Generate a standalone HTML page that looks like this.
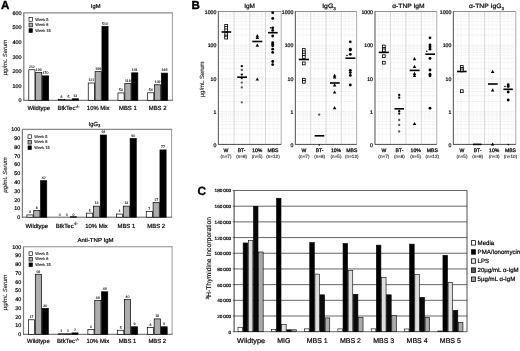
<!DOCTYPE html>
<html><head><meta charset="utf-8"><title>Figure</title>
<style>
html,body{margin:0;padding:0;background:#fff;}
svg{display:block;font-family:"Liberation Sans",Arial,sans-serif;text-rendering:geometricPrecision;filter:blur(0.3px);}
</style></head><body>
<svg width="520" height="351" viewBox="0 0 520 351">
<rect x="0" y="0" width="520" height="351" fill="#fff"/>
<text x="0.90" y="9.40" font-size="11.6" text-anchor="start" font-weight="bold" fill="#000" stroke="#000" stroke-width="0.35" >A</text>
<text x="191.40" y="9.40" font-size="11.6" text-anchor="start" font-weight="bold" fill="#000" stroke="#000" stroke-width="0.35" >B</text>
<text x="197.40" y="195.30" font-size="11.8" text-anchor="start" font-weight="bold" fill="#000" stroke="#000" stroke-width="0.35" >C</text>
<line x1="23.30" y1="12.90" x2="172.90" y2="12.90" stroke="#8a8a8a" stroke-width="1.1" />
<line x1="172.40" y1="12.90" x2="172.40" y2="100.30" stroke="#999" stroke-width="1.0" />
<line x1="23.80" y1="12.90" x2="23.80" y2="100.30" stroke="#7c7c7c" stroke-width="1.2" />
<line x1="23.30" y1="100.30" x2="172.90" y2="100.30" stroke="#333" stroke-width="0.8" />
<text x="21.60" y="102.20" font-size="5.4" text-anchor="end" font-weight="normal" fill="#000" stroke="#000" stroke-width="0.2" >0</text>
<text x="21.60" y="87.63" font-size="5.4" text-anchor="end" font-weight="normal" fill="#000" stroke="#000" stroke-width="0.2" >100</text>
<text x="21.60" y="73.07" font-size="5.4" text-anchor="end" font-weight="normal" fill="#000" stroke="#000" stroke-width="0.2" >200</text>
<text x="21.60" y="58.50" font-size="5.4" text-anchor="end" font-weight="normal" fill="#000" stroke="#000" stroke-width="0.2" >300</text>
<text x="21.60" y="43.93" font-size="5.4" text-anchor="end" font-weight="normal" fill="#000" stroke="#000" stroke-width="0.2" >400</text>
<text x="21.60" y="29.37" font-size="5.4" text-anchor="end" font-weight="normal" fill="#000" stroke="#000" stroke-width="0.2" >500</text>
<text x="21.60" y="14.80" font-size="5.4" text-anchor="end" font-weight="normal" fill="#000" stroke="#000" stroke-width="0.2" >600</text>
<text transform="translate(6.5,57.6) rotate(-90)" font-size="5.9" text-anchor="middle" font-style="italic" fill="#222" stroke="#222" stroke-width="0.12">µg/mL Serum</text>
<text x="95.70" y="7.95" font-size="5.8" text-anchor="middle" font-weight="normal" fill="#000" stroke="#000" stroke-width="0.2" >IgM</text>
<rect x="29.02" y="17.62" width="3.35" height="3.67" fill="#fff" stroke="#000" stroke-width="0.65"/>
<text x="35.30" y="20.70" font-size="3.9" text-anchor="start" font-weight="normal" fill="#000" stroke="#000" stroke-width="0.1" >Week 5</text>
<rect x="29.02" y="23.18" width="3.35" height="3.67" fill="#adadad" stroke="#000" stroke-width="0.65"/>
<text x="35.30" y="26.25" font-size="3.9" text-anchor="start" font-weight="normal" fill="#000" stroke="#000" stroke-width="0.1" >Week 8</text>
<rect x="29.02" y="28.72" width="3.35" height="3.67" fill="#000" stroke="#000" stroke-width="0.65"/>
<text x="35.30" y="31.80" font-size="3.9" text-anchor="start" font-weight="normal" fill="#000" stroke="#000" stroke-width="0.1" >Week 15</text>
<rect x="28.80" y="69.77" width="6.15" height="30.53" fill="#fff" stroke="#000" stroke-width="0.7"/>
<text x="31.88" y="68.12" font-size="3.5" text-anchor="middle" font-weight="normal" fill="#000" stroke="#000" stroke-width="0.08" >212</text>
<rect x="35.65" y="72.54" width="6.15" height="27.76" fill="#adadad" stroke="#000" stroke-width="0.7"/>
<text x="38.73" y="70.89" font-size="3.5" text-anchor="middle" font-weight="normal" fill="#000" stroke="#000" stroke-width="0.08" >193</text>
<rect x="42.50" y="75.89" width="6.15" height="24.41" fill="#000" stroke="#000" stroke-width="0.7"/>
<text x="45.58" y="74.24" font-size="3.5" text-anchor="middle" font-weight="normal" fill="#000" stroke="#000" stroke-width="0.08" >170</text>
<text x="38.73" y="110.30" font-size="5.9" text-anchor="middle" font-weight="normal" fill="#000" stroke="#000" stroke-width="0.2" >Wildtype</text>
<rect x="58.52" y="99.48" width="6.15" height="0.82" fill="#fff" stroke="#000" stroke-width="0.7"/>
<text x="61.59" y="97.83" font-size="3.5" text-anchor="middle" font-weight="normal" fill="#000" stroke="#000" stroke-width="0.08" >8</text>
<rect x="65.37" y="99.92" width="6.15" height="0.38" fill="#adadad" stroke="#000" stroke-width="0.7"/>
<text x="68.44" y="98.27" font-size="3.5" text-anchor="middle" font-weight="normal" fill="#000" stroke="#000" stroke-width="0.08" >5</text>
<rect x="72.22" y="98.76" width="6.15" height="1.54" fill="#000" stroke="#000" stroke-width="0.7"/>
<text x="75.29" y="97.11" font-size="3.5" text-anchor="middle" font-weight="normal" fill="#000" stroke="#000" stroke-width="0.08" >13</text>
<text x="68.44" y="110.30" font-size="6" text-anchor="middle" font-weight="normal" fill="#000" stroke="#000" stroke-width="0.2" >BtkTec<tspan font-size="4.2" dy="-2.2">-/-</tspan></text>
<rect x="88.24" y="83.02" width="6.15" height="17.28" fill="#fff" stroke="#000" stroke-width="0.7"/>
<text x="91.31" y="81.37" font-size="3.5" text-anchor="middle" font-weight="normal" fill="#000" stroke="#000" stroke-width="0.08" >121</text>
<rect x="95.09" y="71.66" width="6.15" height="28.64" fill="#adadad" stroke="#000" stroke-width="0.7"/>
<text x="98.16" y="70.01" font-size="3.5" text-anchor="middle" font-weight="normal" fill="#000" stroke="#000" stroke-width="0.08" >199</text>
<rect x="101.94" y="26.36" width="6.15" height="73.94" fill="#000" stroke="#000" stroke-width="0.7"/>
<text x="105.02" y="24.71" font-size="3.5" text-anchor="middle" font-weight="normal" fill="#000" stroke="#000" stroke-width="0.08" >510</text>
<text x="98.16" y="110.30" font-size="5.9" text-anchor="middle" font-weight="normal" fill="#000" stroke="#000" stroke-width="0.2" >10% Mix</text>
<rect x="117.96" y="92.93" width="6.15" height="7.37" fill="#fff" stroke="#000" stroke-width="0.7"/>
<text x="121.03" y="91.28" font-size="3.5" text-anchor="middle" font-weight="normal" fill="#000" stroke="#000" stroke-width="0.08" >53</text>
<rect x="124.81" y="83.46" width="6.15" height="16.84" fill="#adadad" stroke="#000" stroke-width="0.7"/>
<text x="127.88" y="81.81" font-size="3.5" text-anchor="middle" font-weight="normal" fill="#000" stroke="#000" stroke-width="0.08" >118</text>
<rect x="131.66" y="72.83" width="6.15" height="27.47" fill="#000" stroke="#000" stroke-width="0.7"/>
<text x="134.74" y="71.18" font-size="3.5" text-anchor="middle" font-weight="normal" fill="#000" stroke="#000" stroke-width="0.08" >191</text>
<text x="127.88" y="110.30" font-size="5.9" text-anchor="middle" font-weight="normal" fill="#000" stroke="#000" stroke-width="0.2" >MBS 1</text>
<rect x="147.68" y="92.78" width="6.15" height="7.52" fill="#fff" stroke="#000" stroke-width="0.7"/>
<text x="150.76" y="91.13" font-size="3.5" text-anchor="middle" font-weight="normal" fill="#000" stroke="#000" stroke-width="0.08" >54</text>
<rect x="154.53" y="84.77" width="6.15" height="15.53" fill="#adadad" stroke="#000" stroke-width="0.7"/>
<text x="157.61" y="83.12" font-size="3.5" text-anchor="middle" font-weight="normal" fill="#000" stroke="#000" stroke-width="0.08" >109</text>
<rect x="161.38" y="73.12" width="6.15" height="27.18" fill="#000" stroke="#000" stroke-width="0.7"/>
<text x="164.46" y="71.47" font-size="3.5" text-anchor="middle" font-weight="normal" fill="#000" stroke="#000" stroke-width="0.08" >189</text>
<text x="157.61" y="110.30" font-size="5.9" text-anchor="middle" font-weight="normal" fill="#000" stroke="#000" stroke-width="0.2" >MBS 2</text>
<line x1="21.90" y1="129.40" x2="172.10" y2="129.40" stroke="#8a8a8a" stroke-width="1.1" />
<line x1="171.60" y1="129.40" x2="171.60" y2="217.20" stroke="#999" stroke-width="1.0" />
<line x1="22.40" y1="129.40" x2="22.40" y2="217.20" stroke="#7c7c7c" stroke-width="1.2" />
<line x1="21.90" y1="217.20" x2="172.10" y2="217.20" stroke="#333" stroke-width="0.8" />
<text x="20.20" y="219.10" font-size="5.4" text-anchor="end" font-weight="normal" fill="#000" stroke="#000" stroke-width="0.2" >0</text>
<text x="20.20" y="210.32" font-size="5.4" text-anchor="end" font-weight="normal" fill="#000" stroke="#000" stroke-width="0.2" >10</text>
<text x="20.20" y="201.54" font-size="5.4" text-anchor="end" font-weight="normal" fill="#000" stroke="#000" stroke-width="0.2" >20</text>
<text x="20.20" y="192.76" font-size="5.4" text-anchor="end" font-weight="normal" fill="#000" stroke="#000" stroke-width="0.2" >30</text>
<text x="20.20" y="183.98" font-size="5.4" text-anchor="end" font-weight="normal" fill="#000" stroke="#000" stroke-width="0.2" >40</text>
<text x="20.20" y="175.20" font-size="5.4" text-anchor="end" font-weight="normal" fill="#000" stroke="#000" stroke-width="0.2" >50</text>
<text x="20.20" y="166.42" font-size="5.4" text-anchor="end" font-weight="normal" fill="#000" stroke="#000" stroke-width="0.2" >60</text>
<text x="20.20" y="157.64" font-size="5.4" text-anchor="end" font-weight="normal" fill="#000" stroke="#000" stroke-width="0.2" >70</text>
<text x="20.20" y="148.86" font-size="5.4" text-anchor="end" font-weight="normal" fill="#000" stroke="#000" stroke-width="0.2" >80</text>
<text x="20.20" y="140.08" font-size="5.4" text-anchor="end" font-weight="normal" fill="#000" stroke="#000" stroke-width="0.2" >90</text>
<text x="20.20" y="131.30" font-size="5.4" text-anchor="end" font-weight="normal" fill="#000" stroke="#000" stroke-width="0.2" >100</text>
<text transform="translate(6.5,175.0) rotate(-90)" font-size="5.9" text-anchor="middle" font-style="italic" fill="#222" stroke="#222" stroke-width="0.12">µg/mL Serum</text>
<text x="94.40" y="126.00" font-size="5.8" text-anchor="middle" font-weight="normal" fill="#000" stroke="#000" stroke-width="0.2" >IgG<tspan font-size="4.2" dy="1.4">3</tspan></text>
<rect x="28.02" y="134.82" width="3.35" height="3.67" fill="#fff" stroke="#000" stroke-width="0.65"/>
<text x="34.30" y="137.90" font-size="3.9" text-anchor="start" font-weight="normal" fill="#000" stroke="#000" stroke-width="0.1" >Week 5</text>
<rect x="28.02" y="140.38" width="3.35" height="3.67" fill="#adadad" stroke="#000" stroke-width="0.65"/>
<text x="34.30" y="143.45" font-size="3.9" text-anchor="start" font-weight="normal" fill="#000" stroke="#000" stroke-width="0.1" >Week 8</text>
<rect x="28.02" y="145.92" width="3.35" height="3.67" fill="#000" stroke="#000" stroke-width="0.65"/>
<text x="34.30" y="149.00" font-size="3.9" text-anchor="start" font-weight="normal" fill="#000" stroke="#000" stroke-width="0.1" >Week 15</text>
<rect x="26.90" y="214.92" width="6.15" height="2.28" fill="#fff" stroke="#000" stroke-width="0.7"/>
<text x="29.97" y="213.27" font-size="3.5" text-anchor="middle" font-weight="normal" fill="#000" stroke="#000" stroke-width="0.08" >3</text>
<rect x="33.75" y="210.53" width="6.15" height="6.67" fill="#adadad" stroke="#000" stroke-width="0.7"/>
<text x="36.82" y="208.88" font-size="3.5" text-anchor="middle" font-weight="normal" fill="#000" stroke="#000" stroke-width="0.08" >8</text>
<rect x="40.60" y="180.67" width="6.15" height="36.53" fill="#000" stroke="#000" stroke-width="0.7"/>
<text x="43.67" y="179.02" font-size="3.5" text-anchor="middle" font-weight="normal" fill="#000" stroke="#000" stroke-width="0.08" >42</text>
<text x="36.82" y="227.60" font-size="5.9" text-anchor="middle" font-weight="normal" fill="#000" stroke="#000" stroke-width="0.2" >Wildtype</text>
<text x="59.81" y="215.90" font-size="3.5" text-anchor="middle" font-weight="normal" fill="#000" stroke="#000" stroke-width="0.08" >0</text>
<text x="66.66" y="215.90" font-size="3.5" text-anchor="middle" font-weight="normal" fill="#000" stroke="#000" stroke-width="0.08" >0</text>
<rect x="70.44" y="216.76" width="6.15" height="0.44" fill="#000" stroke="#000" stroke-width="0.7"/>
<text x="73.51" y="215.90" font-size="3.5" text-anchor="middle" font-weight="normal" fill="#000" stroke="#000" stroke-width="0.08" >0</text>
<text x="66.66" y="227.60" font-size="6" text-anchor="middle" font-weight="normal" fill="#000" stroke="#000" stroke-width="0.2" >BtkTec<tspan font-size="4.2" dy="-2.2">-/-</tspan></text>
<rect x="86.58" y="213.16" width="6.15" height="4.04" fill="#fff" stroke="#000" stroke-width="0.7"/>
<text x="89.65" y="211.51" font-size="3.5" text-anchor="middle" font-weight="normal" fill="#000" stroke="#000" stroke-width="0.08" >5</text>
<rect x="93.43" y="206.14" width="6.15" height="11.06" fill="#adadad" stroke="#000" stroke-width="0.7"/>
<text x="96.50" y="204.49" font-size="3.5" text-anchor="middle" font-weight="normal" fill="#000" stroke="#000" stroke-width="0.08" >13</text>
<rect x="100.28" y="135.02" width="6.15" height="82.18" fill="#000" stroke="#000" stroke-width="0.7"/>
<text x="103.35" y="133.37" font-size="3.5" text-anchor="middle" font-weight="normal" fill="#000" stroke="#000" stroke-width="0.08" >94</text>
<text x="96.50" y="227.60" font-size="5.9" text-anchor="middle" font-weight="normal" fill="#000" stroke="#000" stroke-width="0.2" >10% Mix</text>
<rect x="116.42" y="214.04" width="6.15" height="3.16" fill="#fff" stroke="#000" stroke-width="0.7"/>
<text x="119.49" y="212.39" font-size="3.5" text-anchor="middle" font-weight="normal" fill="#000" stroke="#000" stroke-width="0.08" >4</text>
<rect x="123.27" y="206.14" width="6.15" height="11.06" fill="#adadad" stroke="#000" stroke-width="0.7"/>
<text x="126.34" y="204.49" font-size="3.5" text-anchor="middle" font-weight="normal" fill="#000" stroke="#000" stroke-width="0.08" >13</text>
<rect x="130.12" y="138.53" width="6.15" height="78.67" fill="#000" stroke="#000" stroke-width="0.7"/>
<text x="133.19" y="136.88" font-size="3.5" text-anchor="middle" font-weight="normal" fill="#000" stroke="#000" stroke-width="0.08" >90</text>
<text x="126.34" y="227.60" font-size="5.9" text-anchor="middle" font-weight="normal" fill="#000" stroke="#000" stroke-width="0.2" >MBS 1</text>
<rect x="146.26" y="211.40" width="6.15" height="5.80" fill="#fff" stroke="#000" stroke-width="0.7"/>
<text x="149.34" y="209.75" font-size="3.5" text-anchor="middle" font-weight="normal" fill="#000" stroke="#000" stroke-width="0.08" >7</text>
<rect x="153.11" y="202.62" width="6.15" height="14.58" fill="#adadad" stroke="#000" stroke-width="0.7"/>
<text x="156.19" y="200.97" font-size="3.5" text-anchor="middle" font-weight="normal" fill="#000" stroke="#000" stroke-width="0.08" >17</text>
<rect x="159.96" y="149.94" width="6.15" height="67.26" fill="#000" stroke="#000" stroke-width="0.7"/>
<text x="163.03" y="148.29" font-size="3.5" text-anchor="middle" font-weight="normal" fill="#000" stroke="#000" stroke-width="0.08" >77</text>
<text x="156.19" y="227.60" font-size="5.9" text-anchor="middle" font-weight="normal" fill="#000" stroke="#000" stroke-width="0.2" >MBS 2</text>
<line x1="23.00" y1="246.80" x2="172.60" y2="246.80" stroke="#8a8a8a" stroke-width="1.1" />
<line x1="172.10" y1="246.80" x2="172.10" y2="334.30" stroke="#999" stroke-width="1.0" />
<line x1="23.50" y1="246.80" x2="23.50" y2="334.30" stroke="#7c7c7c" stroke-width="1.2" />
<line x1="23.00" y1="334.30" x2="172.60" y2="334.30" stroke="#333" stroke-width="0.8" />
<text x="21.30" y="336.20" font-size="5.4" text-anchor="end" font-weight="normal" fill="#000" stroke="#000" stroke-width="0.2" >0</text>
<text x="21.30" y="327.45" font-size="5.4" text-anchor="end" font-weight="normal" fill="#000" stroke="#000" stroke-width="0.2" >10</text>
<text x="21.30" y="318.70" font-size="5.4" text-anchor="end" font-weight="normal" fill="#000" stroke="#000" stroke-width="0.2" >20</text>
<text x="21.30" y="309.95" font-size="5.4" text-anchor="end" font-weight="normal" fill="#000" stroke="#000" stroke-width="0.2" >30</text>
<text x="21.30" y="301.20" font-size="5.4" text-anchor="end" font-weight="normal" fill="#000" stroke="#000" stroke-width="0.2" >40</text>
<text x="21.30" y="292.45" font-size="5.4" text-anchor="end" font-weight="normal" fill="#000" stroke="#000" stroke-width="0.2" >50</text>
<text x="21.30" y="283.70" font-size="5.4" text-anchor="end" font-weight="normal" fill="#000" stroke="#000" stroke-width="0.2" >60</text>
<text x="21.30" y="274.95" font-size="5.4" text-anchor="end" font-weight="normal" fill="#000" stroke="#000" stroke-width="0.2" >70</text>
<text x="21.30" y="266.20" font-size="5.4" text-anchor="end" font-weight="normal" fill="#000" stroke="#000" stroke-width="0.2" >80</text>
<text x="21.30" y="257.45" font-size="5.4" text-anchor="end" font-weight="normal" fill="#000" stroke="#000" stroke-width="0.2" >90</text>
<text x="21.30" y="248.70" font-size="5.4" text-anchor="end" font-weight="normal" fill="#000" stroke="#000" stroke-width="0.2" >100</text>
<text transform="translate(6.5,292.5) rotate(-90)" font-size="5.9" text-anchor="middle" font-style="italic" fill="#222" stroke="#222" stroke-width="0.12">µg/mL Serum</text>
<text x="95.50" y="242.20" font-size="5.8" text-anchor="middle" font-weight="normal" fill="#000" stroke="#000" stroke-width="0.2"  textLength="36" lengthAdjust="spacingAndGlyphs">Anti-TNP IgM</text>
<rect x="29.02" y="251.82" width="3.35" height="3.67" fill="#fff" stroke="#000" stroke-width="0.65"/>
<text x="35.30" y="254.90" font-size="3.9" text-anchor="start" font-weight="normal" fill="#000" stroke="#000" stroke-width="0.1" >Week 5</text>
<rect x="29.02" y="257.38" width="3.35" height="3.67" fill="#adadad" stroke="#000" stroke-width="0.65"/>
<text x="35.30" y="260.45" font-size="3.9" text-anchor="start" font-weight="normal" fill="#000" stroke="#000" stroke-width="0.1" >Week 8</text>
<rect x="29.02" y="262.93" width="3.35" height="3.67" fill="#000" stroke="#000" stroke-width="0.65"/>
<text x="35.30" y="266.00" font-size="3.9" text-anchor="start" font-weight="normal" fill="#000" stroke="#000" stroke-width="0.1" >Week 15</text>
<rect x="28.45" y="319.78" width="6.15" height="14.53" fill="#fff" stroke="#000" stroke-width="0.7"/>
<text x="31.53" y="318.12" font-size="3.5" text-anchor="middle" font-weight="normal" fill="#000" stroke="#000" stroke-width="0.08" >17</text>
<rect x="35.30" y="274.28" width="6.15" height="60.02" fill="#adadad" stroke="#000" stroke-width="0.7"/>
<text x="38.38" y="272.62" font-size="3.5" text-anchor="middle" font-weight="normal" fill="#000" stroke="#000" stroke-width="0.08" >69</text>
<rect x="42.15" y="308.40" width="6.15" height="25.90" fill="#000" stroke="#000" stroke-width="0.7"/>
<text x="45.22" y="306.75" font-size="3.5" text-anchor="middle" font-weight="normal" fill="#000" stroke="#000" stroke-width="0.08" >30</text>
<text x="38.38" y="343.10" font-size="5.9" text-anchor="middle" font-weight="normal" fill="#000" stroke="#000" stroke-width="0.2" >Wildtype</text>
<rect x="58.17" y="333.78" width="6.15" height="0.53" fill="#fff" stroke="#000" stroke-width="0.7"/>
<text x="61.24" y="332.12" font-size="3.5" text-anchor="middle" font-weight="normal" fill="#000" stroke="#000" stroke-width="0.08" >1</text>
<rect x="65.02" y="333.78" width="6.15" height="0.53" fill="#adadad" stroke="#000" stroke-width="0.7"/>
<text x="68.09" y="332.12" font-size="3.5" text-anchor="middle" font-weight="normal" fill="#000" stroke="#000" stroke-width="0.08" >1</text>
<rect x="71.87" y="332.90" width="6.15" height="1.40" fill="#000" stroke="#000" stroke-width="0.7"/>
<text x="74.94" y="331.25" font-size="3.5" text-anchor="middle" font-weight="normal" fill="#000" stroke="#000" stroke-width="0.08" >2</text>
<text x="68.09" y="343.10" font-size="6" text-anchor="middle" font-weight="normal" fill="#000" stroke="#000" stroke-width="0.2" >BtkTec<tspan font-size="4.2" dy="-2.2">-/-</tspan></text>
<rect x="87.89" y="329.40" width="6.15" height="4.90" fill="#fff" stroke="#000" stroke-width="0.7"/>
<text x="90.96" y="327.75" font-size="3.5" text-anchor="middle" font-weight="normal" fill="#000" stroke="#000" stroke-width="0.08" >6</text>
<rect x="94.74" y="300.53" width="6.15" height="33.77" fill="#adadad" stroke="#000" stroke-width="0.7"/>
<text x="97.81" y="298.88" font-size="3.5" text-anchor="middle" font-weight="normal" fill="#000" stroke="#000" stroke-width="0.08" >39</text>
<rect x="101.59" y="291.78" width="6.15" height="42.52" fill="#000" stroke="#000" stroke-width="0.7"/>
<text x="104.66" y="290.12" font-size="3.5" text-anchor="middle" font-weight="normal" fill="#000" stroke="#000" stroke-width="0.08" >49</text>
<text x="97.81" y="343.10" font-size="5.9" text-anchor="middle" font-weight="normal" fill="#000" stroke="#000" stroke-width="0.2" >10% Mix</text>
<rect x="117.61" y="330.28" width="6.15" height="4.03" fill="#fff" stroke="#000" stroke-width="0.7"/>
<text x="120.68" y="328.62" font-size="3.5" text-anchor="middle" font-weight="normal" fill="#000" stroke="#000" stroke-width="0.08" >5</text>
<rect x="124.46" y="299.65" width="6.15" height="34.65" fill="#adadad" stroke="#000" stroke-width="0.7"/>
<text x="127.53" y="298.00" font-size="3.5" text-anchor="middle" font-weight="normal" fill="#000" stroke="#000" stroke-width="0.08" >40</text>
<rect x="131.31" y="326.78" width="6.15" height="7.53" fill="#000" stroke="#000" stroke-width="0.7"/>
<text x="134.38" y="325.12" font-size="3.5" text-anchor="middle" font-weight="normal" fill="#000" stroke="#000" stroke-width="0.08" >9</text>
<text x="127.53" y="343.10" font-size="5.9" text-anchor="middle" font-weight="normal" fill="#000" stroke="#000" stroke-width="0.2" >MBS 1</text>
<rect x="147.33" y="327.65" width="6.15" height="6.65" fill="#fff" stroke="#000" stroke-width="0.7"/>
<text x="150.41" y="326.00" font-size="3.5" text-anchor="middle" font-weight="normal" fill="#000" stroke="#000" stroke-width="0.08" >8</text>
<rect x="154.18" y="318.90" width="6.15" height="15.40" fill="#adadad" stroke="#000" stroke-width="0.7"/>
<text x="157.25" y="317.25" font-size="3.5" text-anchor="middle" font-weight="normal" fill="#000" stroke="#000" stroke-width="0.08" >18</text>
<rect x="161.03" y="326.78" width="6.15" height="7.53" fill="#000" stroke="#000" stroke-width="0.7"/>
<text x="164.10" y="325.12" font-size="3.5" text-anchor="middle" font-weight="normal" fill="#000" stroke="#000" stroke-width="0.08" >9</text>
<text x="157.25" y="343.10" font-size="5.9" text-anchor="middle" font-weight="normal" fill="#000" stroke="#000" stroke-width="0.2" >MBS 2</text>
<line x1="219.60" y1="134.50" x2="280.00" y2="134.50" stroke="#dedede" stroke-width="0.5" stroke-dasharray="1.2 0.8"/>
<line x1="219.60" y1="128.70" x2="280.00" y2="128.70" stroke="#dedede" stroke-width="0.5" stroke-dasharray="1.2 0.8"/>
<line x1="219.60" y1="124.59" x2="280.00" y2="124.59" stroke="#dedede" stroke-width="0.5" stroke-dasharray="1.2 0.8"/>
<line x1="219.60" y1="121.40" x2="280.00" y2="121.40" stroke="#dedede" stroke-width="0.5" stroke-dasharray="1.2 0.8"/>
<line x1="219.60" y1="118.80" x2="280.00" y2="118.80" stroke="#dedede" stroke-width="0.5" stroke-dasharray="1.2 0.8"/>
<line x1="219.60" y1="116.60" x2="280.00" y2="116.60" stroke="#dedede" stroke-width="0.5" stroke-dasharray="1.2 0.8"/>
<line x1="219.60" y1="114.69" x2="280.00" y2="114.69" stroke="#dedede" stroke-width="0.5" stroke-dasharray="1.2 0.8"/>
<line x1="219.60" y1="113.01" x2="280.00" y2="113.01" stroke="#dedede" stroke-width="0.5" stroke-dasharray="1.2 0.8"/>
<line x1="219.60" y1="101.54" x2="280.00" y2="101.54" stroke="#dedede" stroke-width="0.5" stroke-dasharray="1.2 0.8"/>
<line x1="219.60" y1="95.71" x2="280.00" y2="95.71" stroke="#dedede" stroke-width="0.5" stroke-dasharray="1.2 0.8"/>
<line x1="219.60" y1="91.57" x2="280.00" y2="91.57" stroke="#dedede" stroke-width="0.5" stroke-dasharray="1.2 0.8"/>
<line x1="219.60" y1="88.36" x2="280.00" y2="88.36" stroke="#dedede" stroke-width="0.5" stroke-dasharray="1.2 0.8"/>
<line x1="219.60" y1="85.74" x2="280.00" y2="85.74" stroke="#dedede" stroke-width="0.5" stroke-dasharray="1.2 0.8"/>
<line x1="219.60" y1="83.53" x2="280.00" y2="83.53" stroke="#dedede" stroke-width="0.5" stroke-dasharray="1.2 0.8"/>
<line x1="219.60" y1="81.61" x2="280.00" y2="81.61" stroke="#dedede" stroke-width="0.5" stroke-dasharray="1.2 0.8"/>
<line x1="219.60" y1="79.91" x2="280.00" y2="79.91" stroke="#dedede" stroke-width="0.5" stroke-dasharray="1.2 0.8"/>
<line x1="219.60" y1="68.41" x2="280.00" y2="68.41" stroke="#dedede" stroke-width="0.5" stroke-dasharray="1.2 0.8"/>
<line x1="219.60" y1="62.56" x2="280.00" y2="62.56" stroke="#dedede" stroke-width="0.5" stroke-dasharray="1.2 0.8"/>
<line x1="219.60" y1="58.41" x2="280.00" y2="58.41" stroke="#dedede" stroke-width="0.5" stroke-dasharray="1.2 0.8"/>
<line x1="219.60" y1="55.19" x2="280.00" y2="55.19" stroke="#dedede" stroke-width="0.5" stroke-dasharray="1.2 0.8"/>
<line x1="219.60" y1="52.57" x2="280.00" y2="52.57" stroke="#dedede" stroke-width="0.5" stroke-dasharray="1.2 0.8"/>
<line x1="219.60" y1="50.34" x2="280.00" y2="50.34" stroke="#dedede" stroke-width="0.5" stroke-dasharray="1.2 0.8"/>
<line x1="219.60" y1="48.42" x2="280.00" y2="48.42" stroke="#dedede" stroke-width="0.5" stroke-dasharray="1.2 0.8"/>
<line x1="219.60" y1="46.72" x2="280.00" y2="46.72" stroke="#dedede" stroke-width="0.5" stroke-dasharray="1.2 0.8"/>
<line x1="219.60" y1="35.06" x2="280.00" y2="35.06" stroke="#dedede" stroke-width="0.5" stroke-dasharray="1.2 0.8"/>
<line x1="219.60" y1="29.12" x2="280.00" y2="29.12" stroke="#dedede" stroke-width="0.5" stroke-dasharray="1.2 0.8"/>
<line x1="219.60" y1="24.91" x2="280.00" y2="24.91" stroke="#dedede" stroke-width="0.5" stroke-dasharray="1.2 0.8"/>
<line x1="219.60" y1="21.64" x2="280.00" y2="21.64" stroke="#dedede" stroke-width="0.5" stroke-dasharray="1.2 0.8"/>
<line x1="219.60" y1="18.98" x2="280.00" y2="18.98" stroke="#dedede" stroke-width="0.5" stroke-dasharray="1.2 0.8"/>
<line x1="219.60" y1="16.72" x2="280.00" y2="16.72" stroke="#dedede" stroke-width="0.5" stroke-dasharray="1.2 0.8"/>
<line x1="219.60" y1="14.77" x2="280.00" y2="14.77" stroke="#dedede" stroke-width="0.5" stroke-dasharray="1.2 0.8"/>
<line x1="219.60" y1="13.04" x2="280.00" y2="13.04" stroke="#dedede" stroke-width="0.5" stroke-dasharray="1.2 0.8"/>
<line x1="219.60" y1="111.50" x2="280.00" y2="111.50" stroke="#d6d6d6" stroke-width="0.5" stroke-dasharray="1.2 0.8"/>
<line x1="219.60" y1="78.40" x2="280.00" y2="78.40" stroke="#d6d6d6" stroke-width="0.5" stroke-dasharray="1.2 0.8"/>
<line x1="219.60" y1="45.20" x2="280.00" y2="45.20" stroke="#d6d6d6" stroke-width="0.5" stroke-dasharray="1.2 0.8"/>
<line x1="222.33" y1="12.70" x2="222.33" y2="143.20" stroke="#e6e6e6" stroke-width="0.5" stroke-dasharray="1.2 0.8"/>
<line x1="226.25" y1="12.70" x2="226.25" y2="143.20" stroke="#e6e6e6" stroke-width="0.5" stroke-dasharray="1.2 0.8"/>
<line x1="230.18" y1="12.70" x2="230.18" y2="143.20" stroke="#e6e6e6" stroke-width="0.5" stroke-dasharray="1.2 0.8"/>
<line x1="238.03" y1="12.70" x2="238.03" y2="143.20" stroke="#e6e6e6" stroke-width="0.5" stroke-dasharray="1.2 0.8"/>
<line x1="241.95" y1="12.70" x2="241.95" y2="143.20" stroke="#e6e6e6" stroke-width="0.5" stroke-dasharray="1.2 0.8"/>
<line x1="245.88" y1="12.70" x2="245.88" y2="143.20" stroke="#e6e6e6" stroke-width="0.5" stroke-dasharray="1.2 0.8"/>
<line x1="253.73" y1="12.70" x2="253.73" y2="143.20" stroke="#e6e6e6" stroke-width="0.5" stroke-dasharray="1.2 0.8"/>
<line x1="257.65" y1="12.70" x2="257.65" y2="143.20" stroke="#e6e6e6" stroke-width="0.5" stroke-dasharray="1.2 0.8"/>
<line x1="261.57" y1="12.70" x2="261.57" y2="143.20" stroke="#e6e6e6" stroke-width="0.5" stroke-dasharray="1.2 0.8"/>
<line x1="269.43" y1="12.70" x2="269.43" y2="143.20" stroke="#e6e6e6" stroke-width="0.5" stroke-dasharray="1.2 0.8"/>
<line x1="273.35" y1="12.70" x2="273.35" y2="143.20" stroke="#e6e6e6" stroke-width="0.5" stroke-dasharray="1.2 0.8"/>
<line x1="277.27" y1="12.70" x2="277.27" y2="143.20" stroke="#e6e6e6" stroke-width="0.5" stroke-dasharray="1.2 0.8"/>
<line x1="234.10" y1="11.50" x2="234.10" y2="144.40" stroke="#c2c2c2" stroke-width="0.65" />
<line x1="249.80" y1="11.50" x2="249.80" y2="144.40" stroke="#c2c2c2" stroke-width="0.65" />
<line x1="265.50" y1="11.50" x2="265.50" y2="144.40" stroke="#c2c2c2" stroke-width="0.65" />
<line x1="218.40" y1="11.50" x2="281.20" y2="11.50" stroke="#909090" stroke-width="1.0" />
<line x1="281.20" y1="11.50" x2="281.20" y2="144.40" stroke="#a4a4a4" stroke-width="0.9" />
<line x1="218.40" y1="11.10" x2="218.40" y2="144.80" stroke="#666" stroke-width="1.15" />
<line x1="218.40" y1="144.40" x2="281.20" y2="144.40" stroke="#4a4a4a" stroke-width="1.0" />
<text x="216.40" y="146.60" font-size="5.2" text-anchor="end" font-weight="normal" fill="#000" stroke="#000" stroke-width="0.2" >0</text>
<text x="216.40" y="113.70" font-size="5.2" text-anchor="end" font-weight="normal" fill="#000" stroke="#000" stroke-width="0.2" >1</text>
<text x="216.40" y="80.60" font-size="5.2" text-anchor="end" font-weight="normal" fill="#000" stroke="#000" stroke-width="0.2" >10</text>
<text x="216.40" y="47.40" font-size="5.2" text-anchor="end" font-weight="normal" fill="#000" stroke="#000" stroke-width="0.2" >100</text>
<text x="216.40" y="13.70" font-size="5.2" text-anchor="end" font-weight="normal" fill="#000" stroke="#000" stroke-width="0.2" >1000</text>
<text x="249.60" y="8.10" font-size="6.3" text-anchor="middle" font-weight="normal" fill="#000" stroke="#000" stroke-width="0.2"  textLength="10.8" lengthAdjust="spacingAndGlyphs">IgM</text>
<text x="226.00" y="152.40" font-size="5.1" text-anchor="middle" font-weight="normal" fill="#000" stroke="#000" stroke-width="0.25" >W</text>
<text x="226.00" y="157.70" font-size="4.6" text-anchor="middle" font-weight="normal" fill="#222" stroke="#222" stroke-width="0.1" >(n=7)</text>
<text x="241.60" y="152.40" font-size="5.1" text-anchor="middle" font-weight="normal" fill="#000" stroke="#000" stroke-width="0.25" >BT-</text>
<text x="241.60" y="157.70" font-size="4.6" text-anchor="middle" font-weight="normal" fill="#222" stroke="#222" stroke-width="0.1" >(n=8)</text>
<text x="257.20" y="152.40" font-size="5.1" text-anchor="middle" font-weight="normal" fill="#000" stroke="#000" stroke-width="0.25" >10%</text>
<text x="257.20" y="157.70" font-size="4.6" text-anchor="middle" font-weight="normal" fill="#222" stroke="#222" stroke-width="0.1" >(n=5)</text>
<text x="273.00" y="152.40" font-size="5.1" text-anchor="middle" font-weight="normal" fill="#000" stroke="#000" stroke-width="0.25" >MBS</text>
<text x="273.00" y="157.70" font-size="4.6" text-anchor="middle" font-weight="normal" fill="#222" stroke="#222" stroke-width="0.1" >(n=12)</text>
<rect x="224.80" y="24.40" width="2.8" height="2.8" fill="#fff" stroke="#000" stroke-width="0.8"/>
<rect x="224.80" y="26.60" width="2.8" height="2.8" fill="#fff" stroke="#000" stroke-width="0.8"/>
<rect x="224.80" y="29.00" width="2.8" height="2.8" fill="#fff" stroke="#000" stroke-width="0.8"/>
<rect x="224.80" y="32.80" width="2.8" height="2.8" fill="#fff" stroke="#000" stroke-width="0.8"/>
<rect x="224.80" y="35.10" width="2.8" height="2.8" fill="#fff" stroke="#000" stroke-width="0.8"/>
<rect x="224.80" y="36.20" width="2.8" height="2.8" fill="#fff" stroke="#000" stroke-width="0.8"/>
<line x1="221.50" y1="32.00" x2="231.20" y2="32.00" stroke="#000" stroke-width="1.6" />
<circle cx="241.80" cy="66.20" r="1.15" fill="#000"/>
<circle cx="241.80" cy="70.00" r="1.15" fill="#555"/>
<circle cx="241.80" cy="74.60" r="1.15" fill="#000"/>
<circle cx="241.80" cy="78.00" r="1.15" fill="#000"/>
<circle cx="241.80" cy="82.60" r="1.15" fill="#555"/>
<circle cx="241.80" cy="87.40" r="1.15" fill="#555"/>
<circle cx="241.80" cy="102.30" r="1.15" fill="#555"/>
<line x1="237.20" y1="77.20" x2="247.00" y2="77.20" stroke="#000" stroke-width="1.6" />
<polygon points="255.55,37.20 259.05,37.20 257.30,34.05" fill="#000"/>
<polygon points="255.55,39.00 259.05,39.00 257.30,35.85" fill="#000"/>
<polygon points="255.55,46.70 259.05,46.70 257.30,43.55" fill="#000"/>
<polygon points="255.55,80.60 259.05,80.60 257.30,77.45" fill="#000"/>
<line x1="252.30" y1="41.50" x2="262.30" y2="41.50" stroke="#000" stroke-width="1.6" />
<circle cx="272.70" cy="12.70" r="1.42" fill="#000"/>
<circle cx="272.70" cy="18.40" r="1.42" fill="#000"/>
<circle cx="272.70" cy="27.80" r="1.42" fill="#000"/>
<circle cx="272.70" cy="30.40" r="1.42" fill="#000"/>
<circle cx="272.70" cy="36.00" r="1.42" fill="#000"/>
<circle cx="272.70" cy="42.70" r="1.42" fill="#000"/>
<circle cx="272.70" cy="44.20" r="1.42" fill="#000"/>
<circle cx="272.70" cy="45.80" r="1.42" fill="#000"/>
<circle cx="272.70" cy="49.20" r="1.42" fill="#000"/>
<circle cx="272.70" cy="52.40" r="1.42" fill="#000"/>
<circle cx="272.70" cy="61.50" r="1.42" fill="#000"/>
<circle cx="272.70" cy="64.60" r="1.42" fill="#000"/>
<circle cx="270.60" cy="27.80" r="0.8" fill="#000"/>
<line x1="268.00" y1="32.70" x2="277.70" y2="32.70" stroke="#000" stroke-width="1.6" />
<line x1="296.60" y1="134.50" x2="355.40" y2="134.50" stroke="#dedede" stroke-width="0.5" stroke-dasharray="1.2 0.8"/>
<line x1="296.60" y1="128.70" x2="355.40" y2="128.70" stroke="#dedede" stroke-width="0.5" stroke-dasharray="1.2 0.8"/>
<line x1="296.60" y1="124.59" x2="355.40" y2="124.59" stroke="#dedede" stroke-width="0.5" stroke-dasharray="1.2 0.8"/>
<line x1="296.60" y1="121.40" x2="355.40" y2="121.40" stroke="#dedede" stroke-width="0.5" stroke-dasharray="1.2 0.8"/>
<line x1="296.60" y1="118.80" x2="355.40" y2="118.80" stroke="#dedede" stroke-width="0.5" stroke-dasharray="1.2 0.8"/>
<line x1="296.60" y1="116.60" x2="355.40" y2="116.60" stroke="#dedede" stroke-width="0.5" stroke-dasharray="1.2 0.8"/>
<line x1="296.60" y1="114.69" x2="355.40" y2="114.69" stroke="#dedede" stroke-width="0.5" stroke-dasharray="1.2 0.8"/>
<line x1="296.60" y1="113.01" x2="355.40" y2="113.01" stroke="#dedede" stroke-width="0.5" stroke-dasharray="1.2 0.8"/>
<line x1="296.60" y1="101.54" x2="355.40" y2="101.54" stroke="#dedede" stroke-width="0.5" stroke-dasharray="1.2 0.8"/>
<line x1="296.60" y1="95.71" x2="355.40" y2="95.71" stroke="#dedede" stroke-width="0.5" stroke-dasharray="1.2 0.8"/>
<line x1="296.60" y1="91.57" x2="355.40" y2="91.57" stroke="#dedede" stroke-width="0.5" stroke-dasharray="1.2 0.8"/>
<line x1="296.60" y1="88.36" x2="355.40" y2="88.36" stroke="#dedede" stroke-width="0.5" stroke-dasharray="1.2 0.8"/>
<line x1="296.60" y1="85.74" x2="355.40" y2="85.74" stroke="#dedede" stroke-width="0.5" stroke-dasharray="1.2 0.8"/>
<line x1="296.60" y1="83.53" x2="355.40" y2="83.53" stroke="#dedede" stroke-width="0.5" stroke-dasharray="1.2 0.8"/>
<line x1="296.60" y1="81.61" x2="355.40" y2="81.61" stroke="#dedede" stroke-width="0.5" stroke-dasharray="1.2 0.8"/>
<line x1="296.60" y1="79.91" x2="355.40" y2="79.91" stroke="#dedede" stroke-width="0.5" stroke-dasharray="1.2 0.8"/>
<line x1="296.60" y1="68.41" x2="355.40" y2="68.41" stroke="#dedede" stroke-width="0.5" stroke-dasharray="1.2 0.8"/>
<line x1="296.60" y1="62.56" x2="355.40" y2="62.56" stroke="#dedede" stroke-width="0.5" stroke-dasharray="1.2 0.8"/>
<line x1="296.60" y1="58.41" x2="355.40" y2="58.41" stroke="#dedede" stroke-width="0.5" stroke-dasharray="1.2 0.8"/>
<line x1="296.60" y1="55.19" x2="355.40" y2="55.19" stroke="#dedede" stroke-width="0.5" stroke-dasharray="1.2 0.8"/>
<line x1="296.60" y1="52.57" x2="355.40" y2="52.57" stroke="#dedede" stroke-width="0.5" stroke-dasharray="1.2 0.8"/>
<line x1="296.60" y1="50.34" x2="355.40" y2="50.34" stroke="#dedede" stroke-width="0.5" stroke-dasharray="1.2 0.8"/>
<line x1="296.60" y1="48.42" x2="355.40" y2="48.42" stroke="#dedede" stroke-width="0.5" stroke-dasharray="1.2 0.8"/>
<line x1="296.60" y1="46.72" x2="355.40" y2="46.72" stroke="#dedede" stroke-width="0.5" stroke-dasharray="1.2 0.8"/>
<line x1="296.60" y1="35.06" x2="355.40" y2="35.06" stroke="#dedede" stroke-width="0.5" stroke-dasharray="1.2 0.8"/>
<line x1="296.60" y1="29.12" x2="355.40" y2="29.12" stroke="#dedede" stroke-width="0.5" stroke-dasharray="1.2 0.8"/>
<line x1="296.60" y1="24.91" x2="355.40" y2="24.91" stroke="#dedede" stroke-width="0.5" stroke-dasharray="1.2 0.8"/>
<line x1="296.60" y1="21.64" x2="355.40" y2="21.64" stroke="#dedede" stroke-width="0.5" stroke-dasharray="1.2 0.8"/>
<line x1="296.60" y1="18.98" x2="355.40" y2="18.98" stroke="#dedede" stroke-width="0.5" stroke-dasharray="1.2 0.8"/>
<line x1="296.60" y1="16.72" x2="355.40" y2="16.72" stroke="#dedede" stroke-width="0.5" stroke-dasharray="1.2 0.8"/>
<line x1="296.60" y1="14.77" x2="355.40" y2="14.77" stroke="#dedede" stroke-width="0.5" stroke-dasharray="1.2 0.8"/>
<line x1="296.60" y1="13.04" x2="355.40" y2="13.04" stroke="#dedede" stroke-width="0.5" stroke-dasharray="1.2 0.8"/>
<line x1="296.60" y1="111.50" x2="355.40" y2="111.50" stroke="#d6d6d6" stroke-width="0.5" stroke-dasharray="1.2 0.8"/>
<line x1="296.60" y1="78.40" x2="355.40" y2="78.40" stroke="#d6d6d6" stroke-width="0.5" stroke-dasharray="1.2 0.8"/>
<line x1="296.60" y1="45.20" x2="355.40" y2="45.20" stroke="#d6d6d6" stroke-width="0.5" stroke-dasharray="1.2 0.8"/>
<line x1="299.22" y1="12.70" x2="299.22" y2="143.20" stroke="#e6e6e6" stroke-width="0.5" stroke-dasharray="1.2 0.8"/>
<line x1="303.05" y1="12.70" x2="303.05" y2="143.20" stroke="#e6e6e6" stroke-width="0.5" stroke-dasharray="1.2 0.8"/>
<line x1="306.88" y1="12.70" x2="306.88" y2="143.20" stroke="#e6e6e6" stroke-width="0.5" stroke-dasharray="1.2 0.8"/>
<line x1="314.52" y1="12.70" x2="314.52" y2="143.20" stroke="#e6e6e6" stroke-width="0.5" stroke-dasharray="1.2 0.8"/>
<line x1="318.35" y1="12.70" x2="318.35" y2="143.20" stroke="#e6e6e6" stroke-width="0.5" stroke-dasharray="1.2 0.8"/>
<line x1="322.18" y1="12.70" x2="322.18" y2="143.20" stroke="#e6e6e6" stroke-width="0.5" stroke-dasharray="1.2 0.8"/>
<line x1="329.82" y1="12.70" x2="329.82" y2="143.20" stroke="#e6e6e6" stroke-width="0.5" stroke-dasharray="1.2 0.8"/>
<line x1="333.65" y1="12.70" x2="333.65" y2="143.20" stroke="#e6e6e6" stroke-width="0.5" stroke-dasharray="1.2 0.8"/>
<line x1="337.48" y1="12.70" x2="337.48" y2="143.20" stroke="#e6e6e6" stroke-width="0.5" stroke-dasharray="1.2 0.8"/>
<line x1="345.12" y1="12.70" x2="345.12" y2="143.20" stroke="#e6e6e6" stroke-width="0.5" stroke-dasharray="1.2 0.8"/>
<line x1="348.95" y1="12.70" x2="348.95" y2="143.20" stroke="#e6e6e6" stroke-width="0.5" stroke-dasharray="1.2 0.8"/>
<line x1="352.78" y1="12.70" x2="352.78" y2="143.20" stroke="#e6e6e6" stroke-width="0.5" stroke-dasharray="1.2 0.8"/>
<line x1="310.70" y1="11.50" x2="310.70" y2="144.40" stroke="#c2c2c2" stroke-width="0.65" />
<line x1="326.00" y1="11.50" x2="326.00" y2="144.40" stroke="#c2c2c2" stroke-width="0.65" />
<line x1="341.30" y1="11.50" x2="341.30" y2="144.40" stroke="#c2c2c2" stroke-width="0.65" />
<line x1="295.40" y1="11.50" x2="356.60" y2="11.50" stroke="#909090" stroke-width="1.0" />
<line x1="356.60" y1="11.50" x2="356.60" y2="144.40" stroke="#a4a4a4" stroke-width="0.9" />
<line x1="295.40" y1="11.10" x2="295.40" y2="144.80" stroke="#666" stroke-width="1.15" />
<line x1="295.40" y1="144.40" x2="356.60" y2="144.40" stroke="#4a4a4a" stroke-width="1.0" />
<text x="293.40" y="146.60" font-size="5.2" text-anchor="end" font-weight="normal" fill="#000" stroke="#000" stroke-width="0.2" >0</text>
<text x="293.40" y="113.70" font-size="5.2" text-anchor="end" font-weight="normal" fill="#000" stroke="#000" stroke-width="0.2" >1</text>
<text x="293.40" y="80.60" font-size="5.2" text-anchor="end" font-weight="normal" fill="#000" stroke="#000" stroke-width="0.2" >10</text>
<text x="293.40" y="47.40" font-size="5.2" text-anchor="end" font-weight="normal" fill="#000" stroke="#000" stroke-width="0.2" >100</text>
<text x="293.40" y="13.70" font-size="5.2" text-anchor="end" font-weight="normal" fill="#000" stroke="#000" stroke-width="0.2" >1000</text>
<text x="329.00" y="8.10" font-size="6.3" text-anchor="middle" font-weight="normal" fill="#000" stroke="#000" stroke-width="0.2"  textLength="13.7" lengthAdjust="spacingAndGlyphs">IgG<tspan font-size="4.2" dy="1.4">3</tspan></text>
<text x="304.00" y="152.40" font-size="5.1" text-anchor="middle" font-weight="normal" fill="#000" stroke="#000" stroke-width="0.25" >W</text>
<text x="304.00" y="157.70" font-size="4.6" text-anchor="middle" font-weight="normal" fill="#222" stroke="#222" stroke-width="0.1" >(n=7)</text>
<text x="319.60" y="152.40" font-size="5.1" text-anchor="middle" font-weight="normal" fill="#000" stroke="#000" stroke-width="0.25" >BT-</text>
<text x="319.60" y="157.70" font-size="4.6" text-anchor="middle" font-weight="normal" fill="#222" stroke="#222" stroke-width="0.1" >(n=8)</text>
<text x="336.00" y="152.40" font-size="5.1" text-anchor="middle" font-weight="normal" fill="#000" stroke="#000" stroke-width="0.25" >10%</text>
<text x="336.00" y="157.70" font-size="4.6" text-anchor="middle" font-weight="normal" fill="#222" stroke="#222" stroke-width="0.1" >(n=5)</text>
<text x="351.80" y="152.40" font-size="5.1" text-anchor="middle" font-weight="normal" fill="#000" stroke="#000" stroke-width="0.25" >MBS</text>
<text x="351.80" y="157.70" font-size="4.6" text-anchor="middle" font-weight="normal" fill="#222" stroke="#222" stroke-width="0.1" >(n=12)</text>
<rect x="302.40" y="48.60" width="2.8" height="2.8" fill="#fff" stroke="#000" stroke-width="0.8"/>
<rect x="302.40" y="50.90" width="2.8" height="2.8" fill="#fff" stroke="#000" stroke-width="0.8"/>
<rect x="302.40" y="53.20" width="2.8" height="2.8" fill="#fff" stroke="#000" stroke-width="0.8"/>
<rect x="302.40" y="55.60" width="2.8" height="2.8" fill="#fff" stroke="#000" stroke-width="0.8"/>
<rect x="302.40" y="62.00" width="2.8" height="2.8" fill="#fff" stroke="#000" stroke-width="0.8"/>
<rect x="302.40" y="78.30" width="2.8" height="2.8" fill="#fff" stroke="#000" stroke-width="0.8"/>
<rect x="302.40" y="80.40" width="2.8" height="2.8" fill="#fff" stroke="#000" stroke-width="0.8"/>
<line x1="298.80" y1="59.50" x2="309.00" y2="59.50" stroke="#000" stroke-width="1.6" />
<circle cx="319.20" cy="114.70" r="1.15" fill="#555"/>
<circle cx="319.20" cy="145.00" r="0.8" fill="#000"/>
<line x1="314.60" y1="135.80" x2="324.30" y2="135.80" stroke="#000" stroke-width="1.6" />
<polygon points="332.85,76.80 336.35,76.80 334.60,73.65" fill="#000"/>
<polygon points="332.85,78.40 336.35,78.40 334.60,75.25" fill="#000"/>
<polygon points="332.85,86.40 336.35,86.40 334.60,83.25" fill="#000"/>
<polygon points="332.85,93.60 336.35,93.60 334.60,90.45" fill="#000"/>
<polygon points="332.85,109.20 336.35,109.20 334.60,106.05" fill="#000"/>
<line x1="330.00" y1="83.00" x2="339.70" y2="83.00" stroke="#000" stroke-width="1.6" />
<circle cx="350.30" cy="41.80" r="1.42" fill="#000"/>
<circle cx="350.30" cy="49.20" r="1.42" fill="#000"/>
<circle cx="350.30" cy="50.00" r="1.42" fill="#000"/>
<circle cx="350.30" cy="54.30" r="1.42" fill="#000"/>
<circle cx="350.30" cy="70.30" r="1.42" fill="#000"/>
<circle cx="350.30" cy="72.60" r="1.42" fill="#000"/>
<circle cx="350.30" cy="75.40" r="1.42" fill="#000"/>
<circle cx="350.30" cy="85.00" r="1.42" fill="#000"/>
<circle cx="347.00" cy="55.50" r="0.8" fill="#000"/>
<line x1="345.40" y1="58.20" x2="355.40" y2="58.20" stroke="#000" stroke-width="1.6" />
<line x1="376.20" y1="134.50" x2="435.60" y2="134.50" stroke="#dedede" stroke-width="0.5" stroke-dasharray="1.2 0.8"/>
<line x1="376.20" y1="128.70" x2="435.60" y2="128.70" stroke="#dedede" stroke-width="0.5" stroke-dasharray="1.2 0.8"/>
<line x1="376.20" y1="124.59" x2="435.60" y2="124.59" stroke="#dedede" stroke-width="0.5" stroke-dasharray="1.2 0.8"/>
<line x1="376.20" y1="121.40" x2="435.60" y2="121.40" stroke="#dedede" stroke-width="0.5" stroke-dasharray="1.2 0.8"/>
<line x1="376.20" y1="118.80" x2="435.60" y2="118.80" stroke="#dedede" stroke-width="0.5" stroke-dasharray="1.2 0.8"/>
<line x1="376.20" y1="116.60" x2="435.60" y2="116.60" stroke="#dedede" stroke-width="0.5" stroke-dasharray="1.2 0.8"/>
<line x1="376.20" y1="114.69" x2="435.60" y2="114.69" stroke="#dedede" stroke-width="0.5" stroke-dasharray="1.2 0.8"/>
<line x1="376.20" y1="113.01" x2="435.60" y2="113.01" stroke="#dedede" stroke-width="0.5" stroke-dasharray="1.2 0.8"/>
<line x1="376.20" y1="101.54" x2="435.60" y2="101.54" stroke="#dedede" stroke-width="0.5" stroke-dasharray="1.2 0.8"/>
<line x1="376.20" y1="95.71" x2="435.60" y2="95.71" stroke="#dedede" stroke-width="0.5" stroke-dasharray="1.2 0.8"/>
<line x1="376.20" y1="91.57" x2="435.60" y2="91.57" stroke="#dedede" stroke-width="0.5" stroke-dasharray="1.2 0.8"/>
<line x1="376.20" y1="88.36" x2="435.60" y2="88.36" stroke="#dedede" stroke-width="0.5" stroke-dasharray="1.2 0.8"/>
<line x1="376.20" y1="85.74" x2="435.60" y2="85.74" stroke="#dedede" stroke-width="0.5" stroke-dasharray="1.2 0.8"/>
<line x1="376.20" y1="83.53" x2="435.60" y2="83.53" stroke="#dedede" stroke-width="0.5" stroke-dasharray="1.2 0.8"/>
<line x1="376.20" y1="81.61" x2="435.60" y2="81.61" stroke="#dedede" stroke-width="0.5" stroke-dasharray="1.2 0.8"/>
<line x1="376.20" y1="79.91" x2="435.60" y2="79.91" stroke="#dedede" stroke-width="0.5" stroke-dasharray="1.2 0.8"/>
<line x1="376.20" y1="68.41" x2="435.60" y2="68.41" stroke="#dedede" stroke-width="0.5" stroke-dasharray="1.2 0.8"/>
<line x1="376.20" y1="62.56" x2="435.60" y2="62.56" stroke="#dedede" stroke-width="0.5" stroke-dasharray="1.2 0.8"/>
<line x1="376.20" y1="58.41" x2="435.60" y2="58.41" stroke="#dedede" stroke-width="0.5" stroke-dasharray="1.2 0.8"/>
<line x1="376.20" y1="55.19" x2="435.60" y2="55.19" stroke="#dedede" stroke-width="0.5" stroke-dasharray="1.2 0.8"/>
<line x1="376.20" y1="52.57" x2="435.60" y2="52.57" stroke="#dedede" stroke-width="0.5" stroke-dasharray="1.2 0.8"/>
<line x1="376.20" y1="50.34" x2="435.60" y2="50.34" stroke="#dedede" stroke-width="0.5" stroke-dasharray="1.2 0.8"/>
<line x1="376.20" y1="48.42" x2="435.60" y2="48.42" stroke="#dedede" stroke-width="0.5" stroke-dasharray="1.2 0.8"/>
<line x1="376.20" y1="46.72" x2="435.60" y2="46.72" stroke="#dedede" stroke-width="0.5" stroke-dasharray="1.2 0.8"/>
<line x1="376.20" y1="35.06" x2="435.60" y2="35.06" stroke="#dedede" stroke-width="0.5" stroke-dasharray="1.2 0.8"/>
<line x1="376.20" y1="29.12" x2="435.60" y2="29.12" stroke="#dedede" stroke-width="0.5" stroke-dasharray="1.2 0.8"/>
<line x1="376.20" y1="24.91" x2="435.60" y2="24.91" stroke="#dedede" stroke-width="0.5" stroke-dasharray="1.2 0.8"/>
<line x1="376.20" y1="21.64" x2="435.60" y2="21.64" stroke="#dedede" stroke-width="0.5" stroke-dasharray="1.2 0.8"/>
<line x1="376.20" y1="18.98" x2="435.60" y2="18.98" stroke="#dedede" stroke-width="0.5" stroke-dasharray="1.2 0.8"/>
<line x1="376.20" y1="16.72" x2="435.60" y2="16.72" stroke="#dedede" stroke-width="0.5" stroke-dasharray="1.2 0.8"/>
<line x1="376.20" y1="14.77" x2="435.60" y2="14.77" stroke="#dedede" stroke-width="0.5" stroke-dasharray="1.2 0.8"/>
<line x1="376.20" y1="13.04" x2="435.60" y2="13.04" stroke="#dedede" stroke-width="0.5" stroke-dasharray="1.2 0.8"/>
<line x1="376.20" y1="111.50" x2="435.60" y2="111.50" stroke="#d6d6d6" stroke-width="0.5" stroke-dasharray="1.2 0.8"/>
<line x1="376.20" y1="78.40" x2="435.60" y2="78.40" stroke="#d6d6d6" stroke-width="0.5" stroke-dasharray="1.2 0.8"/>
<line x1="376.20" y1="45.20" x2="435.60" y2="45.20" stroke="#d6d6d6" stroke-width="0.5" stroke-dasharray="1.2 0.8"/>
<line x1="378.86" y1="12.70" x2="378.86" y2="143.20" stroke="#e6e6e6" stroke-width="0.5" stroke-dasharray="1.2 0.8"/>
<line x1="382.73" y1="12.70" x2="382.73" y2="143.20" stroke="#e6e6e6" stroke-width="0.5" stroke-dasharray="1.2 0.8"/>
<line x1="386.59" y1="12.70" x2="386.59" y2="143.20" stroke="#e6e6e6" stroke-width="0.5" stroke-dasharray="1.2 0.8"/>
<line x1="394.31" y1="12.70" x2="394.31" y2="143.20" stroke="#e6e6e6" stroke-width="0.5" stroke-dasharray="1.2 0.8"/>
<line x1="398.18" y1="12.70" x2="398.18" y2="143.20" stroke="#e6e6e6" stroke-width="0.5" stroke-dasharray="1.2 0.8"/>
<line x1="402.04" y1="12.70" x2="402.04" y2="143.20" stroke="#e6e6e6" stroke-width="0.5" stroke-dasharray="1.2 0.8"/>
<line x1="409.76" y1="12.70" x2="409.76" y2="143.20" stroke="#e6e6e6" stroke-width="0.5" stroke-dasharray="1.2 0.8"/>
<line x1="413.62" y1="12.70" x2="413.62" y2="143.20" stroke="#e6e6e6" stroke-width="0.5" stroke-dasharray="1.2 0.8"/>
<line x1="417.49" y1="12.70" x2="417.49" y2="143.20" stroke="#e6e6e6" stroke-width="0.5" stroke-dasharray="1.2 0.8"/>
<line x1="425.21" y1="12.70" x2="425.21" y2="143.20" stroke="#e6e6e6" stroke-width="0.5" stroke-dasharray="1.2 0.8"/>
<line x1="429.08" y1="12.70" x2="429.08" y2="143.20" stroke="#e6e6e6" stroke-width="0.5" stroke-dasharray="1.2 0.8"/>
<line x1="432.94" y1="12.70" x2="432.94" y2="143.20" stroke="#e6e6e6" stroke-width="0.5" stroke-dasharray="1.2 0.8"/>
<line x1="390.45" y1="11.50" x2="390.45" y2="144.40" stroke="#c2c2c2" stroke-width="0.65" />
<line x1="405.90" y1="11.50" x2="405.90" y2="144.40" stroke="#c2c2c2" stroke-width="0.65" />
<line x1="421.35" y1="11.50" x2="421.35" y2="144.40" stroke="#c2c2c2" stroke-width="0.65" />
<line x1="375.00" y1="11.50" x2="436.80" y2="11.50" stroke="#909090" stroke-width="1.0" />
<line x1="436.80" y1="11.50" x2="436.80" y2="144.40" stroke="#a4a4a4" stroke-width="0.9" />
<line x1="375.00" y1="11.10" x2="375.00" y2="144.80" stroke="#666" stroke-width="1.15" />
<line x1="375.00" y1="144.40" x2="436.80" y2="144.40" stroke="#4a4a4a" stroke-width="1.0" />
<text x="373.00" y="146.60" font-size="5.2" text-anchor="end" font-weight="normal" fill="#000" stroke="#000" stroke-width="0.2" >0</text>
<text x="373.00" y="113.70" font-size="5.2" text-anchor="end" font-weight="normal" fill="#000" stroke="#000" stroke-width="0.2" >1</text>
<text x="373.00" y="80.60" font-size="5.2" text-anchor="end" font-weight="normal" fill="#000" stroke="#000" stroke-width="0.2" >10</text>
<text x="373.00" y="47.40" font-size="5.2" text-anchor="end" font-weight="normal" fill="#000" stroke="#000" stroke-width="0.2" >100</text>
<text x="373.00" y="13.70" font-size="5.2" text-anchor="end" font-weight="normal" fill="#000" stroke="#000" stroke-width="0.2" >1000</text>
<text x="408.40" y="8.10" font-size="6.3" text-anchor="middle" font-weight="normal" fill="#000" stroke="#000" stroke-width="0.2"  textLength="32.4" lengthAdjust="spacingAndGlyphs">α-TNP IgM</text>
<text x="383.80" y="152.40" font-size="5.1" text-anchor="middle" font-weight="normal" fill="#000" stroke="#000" stroke-width="0.25" >W</text>
<text x="383.80" y="157.70" font-size="4.6" text-anchor="middle" font-weight="normal" fill="#222" stroke="#222" stroke-width="0.1" >(n=7)</text>
<text x="399.40" y="152.40" font-size="5.1" text-anchor="middle" font-weight="normal" fill="#000" stroke="#000" stroke-width="0.25" >BT-</text>
<text x="399.40" y="157.70" font-size="4.6" text-anchor="middle" font-weight="normal" fill="#222" stroke="#222" stroke-width="0.1" >(n=8)</text>
<text x="415.70" y="152.40" font-size="5.1" text-anchor="middle" font-weight="normal" fill="#000" stroke="#000" stroke-width="0.25" >10%</text>
<text x="415.70" y="157.70" font-size="4.6" text-anchor="middle" font-weight="normal" fill="#222" stroke="#222" stroke-width="0.1" >(n=5)</text>
<text x="432.30" y="152.40" font-size="5.1" text-anchor="middle" font-weight="normal" fill="#000" stroke="#000" stroke-width="0.25" >MBS</text>
<text x="432.30" y="157.70" font-size="4.6" text-anchor="middle" font-weight="normal" fill="#222" stroke="#222" stroke-width="0.1" >(n=12)</text>
<rect x="382.40" y="45.10" width="2.8" height="2.8" fill="#fff" stroke="#000" stroke-width="0.8"/>
<rect x="382.40" y="47.40" width="2.8" height="2.8" fill="#fff" stroke="#000" stroke-width="0.8"/>
<rect x="382.40" y="49.00" width="2.8" height="2.8" fill="#fff" stroke="#000" stroke-width="0.8"/>
<rect x="382.40" y="54.80" width="2.8" height="2.8" fill="#fff" stroke="#000" stroke-width="0.8"/>
<rect x="382.40" y="61.30" width="2.8" height="2.8" fill="#fff" stroke="#000" stroke-width="0.8"/>
<line x1="378.80" y1="52.40" x2="388.80" y2="52.40" stroke="#000" stroke-width="1.6" />
<circle cx="399.20" cy="95.00" r="1.15" fill="#000"/>
<circle cx="399.20" cy="97.70" r="1.15" fill="#000"/>
<circle cx="399.20" cy="111.20" r="1.15" fill="#000"/>
<circle cx="399.20" cy="113.60" r="1.15" fill="#000"/>
<circle cx="399.20" cy="120.00" r="1.15" fill="#555"/>
<circle cx="399.20" cy="125.00" r="1.15" fill="#555"/>
<circle cx="399.20" cy="131.50" r="1.15" fill="#555"/>
<line x1="394.50" y1="108.80" x2="404.00" y2="108.80" stroke="#000" stroke-width="1.6" />
<polygon points="412.75,60.20 416.25,60.20 414.50,57.05" fill="#000"/>
<polygon points="412.75,67.90 416.25,67.90 414.50,64.75" fill="#000"/>
<polygon points="412.75,74.90 416.25,74.90 414.50,71.75" fill="#000"/>
<polygon points="412.75,76.90 416.25,76.90 414.50,73.75" fill="#000"/>
<polygon points="412.75,125.10 416.25,125.10 414.50,121.95" fill="#000"/>
<line x1="409.60" y1="70.40" x2="419.60" y2="70.40" stroke="#000" stroke-width="1.6" />
<circle cx="430.00" cy="37.80" r="1.42" fill="#000"/>
<circle cx="430.00" cy="45.00" r="1.42" fill="#000"/>
<circle cx="430.00" cy="47.00" r="1.42" fill="#000"/>
<circle cx="430.00" cy="49.20" r="1.42" fill="#000"/>
<circle cx="430.00" cy="58.40" r="1.42" fill="#000"/>
<circle cx="430.00" cy="70.00" r="1.42" fill="#000"/>
<circle cx="430.00" cy="74.20" r="1.42" fill="#000"/>
<circle cx="430.00" cy="75.80" r="1.42" fill="#000"/>
<circle cx="430.00" cy="108.20" r="1.42" fill="#000"/>
<circle cx="426.80" cy="51.20" r="0.8" fill="#000"/>
<line x1="425.30" y1="54.20" x2="435.00" y2="54.20" stroke="#000" stroke-width="1.6" />
<line x1="454.60" y1="134.50" x2="514.60" y2="134.50" stroke="#dedede" stroke-width="0.5" stroke-dasharray="1.2 0.8"/>
<line x1="454.60" y1="128.70" x2="514.60" y2="128.70" stroke="#dedede" stroke-width="0.5" stroke-dasharray="1.2 0.8"/>
<line x1="454.60" y1="124.59" x2="514.60" y2="124.59" stroke="#dedede" stroke-width="0.5" stroke-dasharray="1.2 0.8"/>
<line x1="454.60" y1="121.40" x2="514.60" y2="121.40" stroke="#dedede" stroke-width="0.5" stroke-dasharray="1.2 0.8"/>
<line x1="454.60" y1="118.80" x2="514.60" y2="118.80" stroke="#dedede" stroke-width="0.5" stroke-dasharray="1.2 0.8"/>
<line x1="454.60" y1="116.60" x2="514.60" y2="116.60" stroke="#dedede" stroke-width="0.5" stroke-dasharray="1.2 0.8"/>
<line x1="454.60" y1="114.69" x2="514.60" y2="114.69" stroke="#dedede" stroke-width="0.5" stroke-dasharray="1.2 0.8"/>
<line x1="454.60" y1="113.01" x2="514.60" y2="113.01" stroke="#dedede" stroke-width="0.5" stroke-dasharray="1.2 0.8"/>
<line x1="454.60" y1="101.54" x2="514.60" y2="101.54" stroke="#dedede" stroke-width="0.5" stroke-dasharray="1.2 0.8"/>
<line x1="454.60" y1="95.71" x2="514.60" y2="95.71" stroke="#dedede" stroke-width="0.5" stroke-dasharray="1.2 0.8"/>
<line x1="454.60" y1="91.57" x2="514.60" y2="91.57" stroke="#dedede" stroke-width="0.5" stroke-dasharray="1.2 0.8"/>
<line x1="454.60" y1="88.36" x2="514.60" y2="88.36" stroke="#dedede" stroke-width="0.5" stroke-dasharray="1.2 0.8"/>
<line x1="454.60" y1="85.74" x2="514.60" y2="85.74" stroke="#dedede" stroke-width="0.5" stroke-dasharray="1.2 0.8"/>
<line x1="454.60" y1="83.53" x2="514.60" y2="83.53" stroke="#dedede" stroke-width="0.5" stroke-dasharray="1.2 0.8"/>
<line x1="454.60" y1="81.61" x2="514.60" y2="81.61" stroke="#dedede" stroke-width="0.5" stroke-dasharray="1.2 0.8"/>
<line x1="454.60" y1="79.91" x2="514.60" y2="79.91" stroke="#dedede" stroke-width="0.5" stroke-dasharray="1.2 0.8"/>
<line x1="454.60" y1="68.41" x2="514.60" y2="68.41" stroke="#dedede" stroke-width="0.5" stroke-dasharray="1.2 0.8"/>
<line x1="454.60" y1="62.56" x2="514.60" y2="62.56" stroke="#dedede" stroke-width="0.5" stroke-dasharray="1.2 0.8"/>
<line x1="454.60" y1="58.41" x2="514.60" y2="58.41" stroke="#dedede" stroke-width="0.5" stroke-dasharray="1.2 0.8"/>
<line x1="454.60" y1="55.19" x2="514.60" y2="55.19" stroke="#dedede" stroke-width="0.5" stroke-dasharray="1.2 0.8"/>
<line x1="454.60" y1="52.57" x2="514.60" y2="52.57" stroke="#dedede" stroke-width="0.5" stroke-dasharray="1.2 0.8"/>
<line x1="454.60" y1="50.34" x2="514.60" y2="50.34" stroke="#dedede" stroke-width="0.5" stroke-dasharray="1.2 0.8"/>
<line x1="454.60" y1="48.42" x2="514.60" y2="48.42" stroke="#dedede" stroke-width="0.5" stroke-dasharray="1.2 0.8"/>
<line x1="454.60" y1="46.72" x2="514.60" y2="46.72" stroke="#dedede" stroke-width="0.5" stroke-dasharray="1.2 0.8"/>
<line x1="454.60" y1="35.06" x2="514.60" y2="35.06" stroke="#dedede" stroke-width="0.5" stroke-dasharray="1.2 0.8"/>
<line x1="454.60" y1="29.12" x2="514.60" y2="29.12" stroke="#dedede" stroke-width="0.5" stroke-dasharray="1.2 0.8"/>
<line x1="454.60" y1="24.91" x2="514.60" y2="24.91" stroke="#dedede" stroke-width="0.5" stroke-dasharray="1.2 0.8"/>
<line x1="454.60" y1="21.64" x2="514.60" y2="21.64" stroke="#dedede" stroke-width="0.5" stroke-dasharray="1.2 0.8"/>
<line x1="454.60" y1="18.98" x2="514.60" y2="18.98" stroke="#dedede" stroke-width="0.5" stroke-dasharray="1.2 0.8"/>
<line x1="454.60" y1="16.72" x2="514.60" y2="16.72" stroke="#dedede" stroke-width="0.5" stroke-dasharray="1.2 0.8"/>
<line x1="454.60" y1="14.77" x2="514.60" y2="14.77" stroke="#dedede" stroke-width="0.5" stroke-dasharray="1.2 0.8"/>
<line x1="454.60" y1="13.04" x2="514.60" y2="13.04" stroke="#dedede" stroke-width="0.5" stroke-dasharray="1.2 0.8"/>
<line x1="454.60" y1="111.50" x2="514.60" y2="111.50" stroke="#d6d6d6" stroke-width="0.5" stroke-dasharray="1.2 0.8"/>
<line x1="454.60" y1="78.40" x2="514.60" y2="78.40" stroke="#d6d6d6" stroke-width="0.5" stroke-dasharray="1.2 0.8"/>
<line x1="454.60" y1="45.20" x2="514.60" y2="45.20" stroke="#d6d6d6" stroke-width="0.5" stroke-dasharray="1.2 0.8"/>
<line x1="457.30" y1="12.70" x2="457.30" y2="143.20" stroke="#e6e6e6" stroke-width="0.5" stroke-dasharray="1.2 0.8"/>
<line x1="461.20" y1="12.70" x2="461.20" y2="143.20" stroke="#e6e6e6" stroke-width="0.5" stroke-dasharray="1.2 0.8"/>
<line x1="465.10" y1="12.70" x2="465.10" y2="143.20" stroke="#e6e6e6" stroke-width="0.5" stroke-dasharray="1.2 0.8"/>
<line x1="472.90" y1="12.70" x2="472.90" y2="143.20" stroke="#e6e6e6" stroke-width="0.5" stroke-dasharray="1.2 0.8"/>
<line x1="476.80" y1="12.70" x2="476.80" y2="143.20" stroke="#e6e6e6" stroke-width="0.5" stroke-dasharray="1.2 0.8"/>
<line x1="480.70" y1="12.70" x2="480.70" y2="143.20" stroke="#e6e6e6" stroke-width="0.5" stroke-dasharray="1.2 0.8"/>
<line x1="488.50" y1="12.70" x2="488.50" y2="143.20" stroke="#e6e6e6" stroke-width="0.5" stroke-dasharray="1.2 0.8"/>
<line x1="492.40" y1="12.70" x2="492.40" y2="143.20" stroke="#e6e6e6" stroke-width="0.5" stroke-dasharray="1.2 0.8"/>
<line x1="496.30" y1="12.70" x2="496.30" y2="143.20" stroke="#e6e6e6" stroke-width="0.5" stroke-dasharray="1.2 0.8"/>
<line x1="504.10" y1="12.70" x2="504.10" y2="143.20" stroke="#e6e6e6" stroke-width="0.5" stroke-dasharray="1.2 0.8"/>
<line x1="508.00" y1="12.70" x2="508.00" y2="143.20" stroke="#e6e6e6" stroke-width="0.5" stroke-dasharray="1.2 0.8"/>
<line x1="511.90" y1="12.70" x2="511.90" y2="143.20" stroke="#e6e6e6" stroke-width="0.5" stroke-dasharray="1.2 0.8"/>
<line x1="469.00" y1="11.50" x2="469.00" y2="144.40" stroke="#c2c2c2" stroke-width="0.65" />
<line x1="484.60" y1="11.50" x2="484.60" y2="144.40" stroke="#c2c2c2" stroke-width="0.65" />
<line x1="500.20" y1="11.50" x2="500.20" y2="144.40" stroke="#c2c2c2" stroke-width="0.65" />
<line x1="453.40" y1="11.50" x2="515.80" y2="11.50" stroke="#909090" stroke-width="1.0" />
<line x1="515.80" y1="11.50" x2="515.80" y2="144.40" stroke="#a4a4a4" stroke-width="0.9" />
<line x1="453.40" y1="11.10" x2="453.40" y2="144.80" stroke="#666" stroke-width="1.15" />
<line x1="453.40" y1="144.40" x2="515.80" y2="144.40" stroke="#4a4a4a" stroke-width="1.0" />
<text x="451.40" y="146.60" font-size="5.2" text-anchor="end" font-weight="normal" fill="#000" stroke="#000" stroke-width="0.2" >0</text>
<text x="451.40" y="113.70" font-size="5.2" text-anchor="end" font-weight="normal" fill="#000" stroke="#000" stroke-width="0.2" >1</text>
<text x="451.40" y="80.60" font-size="5.2" text-anchor="end" font-weight="normal" fill="#000" stroke="#000" stroke-width="0.2" >10</text>
<text x="451.40" y="47.40" font-size="5.2" text-anchor="end" font-weight="normal" fill="#000" stroke="#000" stroke-width="0.2" >100</text>
<text x="451.40" y="13.70" font-size="5.2" text-anchor="end" font-weight="normal" fill="#000" stroke="#000" stroke-width="0.2" >1000</text>
<text x="486.50" y="8.10" font-size="6.3" text-anchor="middle" font-weight="normal" fill="#000" stroke="#000" stroke-width="0.2"  textLength="34.9" lengthAdjust="spacingAndGlyphs">α-TNP IgG<tspan font-size="4.2" dy="1.4">3</tspan></text>
<text x="462.00" y="152.40" font-size="5.1" text-anchor="middle" font-weight="normal" fill="#000" stroke="#000" stroke-width="0.25" >W</text>
<text x="462.00" y="157.70" font-size="4.6" text-anchor="middle" font-weight="normal" fill="#222" stroke="#222" stroke-width="0.1" >(n=5)</text>
<text x="477.60" y="152.40" font-size="5.1" text-anchor="middle" font-weight="normal" fill="#000" stroke="#000" stroke-width="0.25" >BT-</text>
<text x="477.60" y="157.70" font-size="4.6" text-anchor="middle" font-weight="normal" fill="#222" stroke="#222" stroke-width="0.1" >(n=8)</text>
<text x="494.20" y="152.40" font-size="5.1" text-anchor="middle" font-weight="normal" fill="#000" stroke="#000" stroke-width="0.25" >10%</text>
<text x="494.20" y="157.70" font-size="4.6" text-anchor="middle" font-weight="normal" fill="#222" stroke="#222" stroke-width="0.1" >(n=3)</text>
<text x="510.50" y="152.40" font-size="5.1" text-anchor="middle" font-weight="normal" fill="#000" stroke="#000" stroke-width="0.25" >MBS</text>
<text x="510.50" y="157.70" font-size="4.6" text-anchor="middle" font-weight="normal" fill="#222" stroke="#222" stroke-width="0.1" >(n=10)</text>
<rect x="460.40" y="65.60" width="2.8" height="2.8" fill="#fff" stroke="#000" stroke-width="0.8"/>
<rect x="460.40" y="67.40" width="2.8" height="2.8" fill="#fff" stroke="#000" stroke-width="0.8"/>
<rect x="460.40" y="69.00" width="2.8" height="2.8" fill="#fff" stroke="#000" stroke-width="0.8"/>
<rect x="460.40" y="89.80" width="2.8" height="2.8" fill="#fff" stroke="#000" stroke-width="0.8"/>
<line x1="457.00" y1="71.50" x2="466.60" y2="71.50" stroke="#000" stroke-width="1.6" />
<line x1="473.00" y1="144.40" x2="481.50" y2="144.40" stroke="#000" stroke-width="1.6" />
<polygon points="490.85,73.00 494.35,73.00 492.60,69.85" fill="#000"/>
<polygon points="490.85,91.40 494.35,91.40 492.60,88.25" fill="#000"/>
<polygon points="490.85,145.60 494.35,145.60 492.60,142.45" fill="#000"/>
<line x1="488.00" y1="84.00" x2="497.70" y2="84.00" stroke="#000" stroke-width="1.6" />
<circle cx="508.20" cy="84.70" r="1.42" fill="#000"/>
<circle cx="508.20" cy="86.50" r="1.42" fill="#000"/>
<circle cx="508.20" cy="92.00" r="1.42" fill="#000"/>
<circle cx="508.20" cy="100.00" r="1.42" fill="#000"/>
<circle cx="505.00" cy="86.50" r="0.8" fill="#000"/>
<circle cx="508.20" cy="144.60" r="0.8" fill="#000"/>
<line x1="503.40" y1="89.30" x2="512.80" y2="89.30" stroke="#000" stroke-width="1.6" />
<text transform="translate(204.4,79.4) rotate(-90)" font-size="6" text-anchor="middle" fill="#222" stroke="#222" stroke-width="0.12">µg/mL Serum</text>
<line x1="232.80" y1="331.70" x2="467.00" y2="331.70" stroke="#333" stroke-width="0.75" />
<text x="231.20" y="333.65" font-size="4.7" text-anchor="end" font-weight="normal" fill="#000" stroke="#000" stroke-width="0.2" >0</text>
<line x1="232.80" y1="316.01" x2="467.00" y2="316.01" stroke="#333" stroke-width="0.75" />
<text x="231.20" y="317.96" font-size="4.7" text-anchor="end" font-weight="normal" fill="#000" stroke="#000" stroke-width="0.2" >20&#8201;000</text>
<line x1="232.80" y1="300.32" x2="467.00" y2="300.32" stroke="#333" stroke-width="0.75" />
<text x="231.20" y="302.27" font-size="4.7" text-anchor="end" font-weight="normal" fill="#000" stroke="#000" stroke-width="0.2" >40&#8201;000</text>
<line x1="232.80" y1="284.63" x2="467.00" y2="284.63" stroke="#333" stroke-width="0.75" />
<text x="231.20" y="286.58" font-size="4.7" text-anchor="end" font-weight="normal" fill="#000" stroke="#000" stroke-width="0.2" >60&#8201;000</text>
<line x1="232.80" y1="268.94" x2="467.00" y2="268.94" stroke="#333" stroke-width="0.75" />
<text x="231.20" y="270.89" font-size="4.7" text-anchor="end" font-weight="normal" fill="#000" stroke="#000" stroke-width="0.2" >80&#8201;000</text>
<line x1="232.80" y1="253.26" x2="467.00" y2="253.26" stroke="#333" stroke-width="0.75" />
<text x="231.20" y="255.21" font-size="4.7" text-anchor="end" font-weight="normal" fill="#000" stroke="#000" stroke-width="0.2" >100&#8201;000</text>
<line x1="232.80" y1="237.57" x2="467.00" y2="237.57" stroke="#333" stroke-width="0.75" />
<text x="231.20" y="239.52" font-size="4.7" text-anchor="end" font-weight="normal" fill="#000" stroke="#000" stroke-width="0.2" >120&#8201;000</text>
<line x1="232.80" y1="221.88" x2="467.00" y2="221.88" stroke="#333" stroke-width="0.75" />
<text x="231.20" y="223.83" font-size="4.7" text-anchor="end" font-weight="normal" fill="#000" stroke="#000" stroke-width="0.2" >140&#8201;000</text>
<line x1="232.80" y1="206.19" x2="467.00" y2="206.19" stroke="#333" stroke-width="0.75" />
<text x="231.20" y="208.14" font-size="4.7" text-anchor="end" font-weight="normal" fill="#000" stroke="#000" stroke-width="0.2" >160&#8201;000</text>
<line x1="232.80" y1="190.50" x2="467.00" y2="190.50" stroke="#333" stroke-width="0.75" />
<text x="231.20" y="192.45" font-size="4.7" text-anchor="end" font-weight="normal" fill="#000" stroke="#000" stroke-width="0.2" >180&#8201;000</text>
<line x1="234.10" y1="190.50" x2="234.10" y2="331.70" stroke="#222" stroke-width="0.9" />
<line x1="467.00" y1="190.50" x2="467.00" y2="331.70" stroke="#222" stroke-width="0.8" />
<rect x="238.00" y="327.29" width="4.55" height="4.41" fill="#fff" stroke="#000" stroke-width="0.6"/>
<rect x="243.15" y="242.97" width="4.55" height="88.73" fill="#000" stroke="#000" stroke-width="0.6"/>
<rect x="248.30" y="240.61" width="4.55" height="91.09" fill="#dedede" stroke="#000" stroke-width="0.6"/>
<rect x="253.45" y="206.33" width="4.55" height="125.37" fill="#0a0a0a" stroke="#000" stroke-width="0.6"/>
<rect x="258.60" y="251.99" width="4.55" height="79.71" fill="#aaaaaa" stroke="#000" stroke-width="0.6"/>
<text x="251.07" y="343.20" font-size="7" text-anchor="middle" font-weight="normal" fill="#000" stroke="#000" stroke-width="0.2"  textLength="28.0" lengthAdjust="spacingAndGlyphs">Wildtype</text>
<rect x="271.30" y="329.65" width="4.55" height="2.05" fill="#fff" stroke="#000" stroke-width="0.6"/>
<rect x="276.45" y="198.25" width="4.55" height="133.45" fill="#000" stroke="#000" stroke-width="0.6"/>
<rect x="281.60" y="324.55" width="4.55" height="7.15" fill="#dedede" stroke="#000" stroke-width="0.6"/>
<rect x="286.75" y="329.80" width="4.55" height="1.90" fill="#0a0a0a" stroke="#000" stroke-width="0.6"/>
<rect x="291.90" y="329.80" width="4.55" height="1.90" fill="#aaaaaa" stroke="#000" stroke-width="0.6"/>
<text x="283.88" y="343.20" font-size="7" text-anchor="middle" font-weight="normal" fill="#000" stroke="#000" stroke-width="0.2" >MIG</text>
<rect x="304.60" y="328.86" width="4.55" height="2.84" fill="#fff" stroke="#000" stroke-width="0.6"/>
<rect x="309.75" y="242.65" width="4.55" height="89.05" fill="#000" stroke="#000" stroke-width="0.6"/>
<rect x="314.90" y="274.11" width="4.55" height="57.59" fill="#dedede" stroke="#000" stroke-width="0.6"/>
<rect x="320.05" y="294.82" width="4.55" height="36.88" fill="#0a0a0a" stroke="#000" stroke-width="0.6"/>
<rect x="325.20" y="317.88" width="4.55" height="13.82" fill="#aaaaaa" stroke="#000" stroke-width="0.6"/>
<text x="317.17" y="343.20" font-size="7" text-anchor="middle" font-weight="normal" fill="#000" stroke="#000" stroke-width="0.2" >MBS 1</text>
<rect x="337.90" y="328.86" width="4.55" height="2.84" fill="#fff" stroke="#000" stroke-width="0.6"/>
<rect x="343.05" y="243.51" width="4.55" height="88.19" fill="#000" stroke="#000" stroke-width="0.6"/>
<rect x="348.20" y="270.58" width="4.55" height="61.12" fill="#dedede" stroke="#000" stroke-width="0.6"/>
<rect x="353.35" y="294.35" width="4.55" height="37.35" fill="#0a0a0a" stroke="#000" stroke-width="0.6"/>
<rect x="358.50" y="317.49" width="4.55" height="14.21" fill="#aaaaaa" stroke="#000" stroke-width="0.6"/>
<text x="350.47" y="343.20" font-size="7" text-anchor="middle" font-weight="normal" fill="#000" stroke="#000" stroke-width="0.2" >MBS 2</text>
<rect x="371.20" y="328.86" width="4.55" height="2.84" fill="#fff" stroke="#000" stroke-width="0.6"/>
<rect x="376.35" y="245.16" width="4.55" height="86.54" fill="#000" stroke="#000" stroke-width="0.6"/>
<rect x="381.50" y="277.56" width="4.55" height="54.14" fill="#dedede" stroke="#000" stroke-width="0.6"/>
<rect x="386.65" y="294.82" width="4.55" height="36.88" fill="#0a0a0a" stroke="#000" stroke-width="0.6"/>
<rect x="391.80" y="315.29" width="4.55" height="16.41" fill="#aaaaaa" stroke="#000" stroke-width="0.6"/>
<text x="383.77" y="343.20" font-size="7" text-anchor="middle" font-weight="normal" fill="#000" stroke="#000" stroke-width="0.2" >MBS 3</text>
<rect x="404.50" y="329.02" width="4.55" height="2.68" fill="#fff" stroke="#000" stroke-width="0.6"/>
<rect x="409.65" y="244.14" width="4.55" height="87.56" fill="#000" stroke="#000" stroke-width="0.6"/>
<rect x="414.80" y="274.58" width="4.55" height="57.12" fill="#dedede" stroke="#000" stroke-width="0.6"/>
<rect x="419.95" y="297.33" width="4.55" height="34.37" fill="#0a0a0a" stroke="#000" stroke-width="0.6"/>
<rect x="425.10" y="317.33" width="4.55" height="14.37" fill="#aaaaaa" stroke="#000" stroke-width="0.6"/>
<text x="417.07" y="343.20" font-size="7" text-anchor="middle" font-weight="normal" fill="#000" stroke="#000" stroke-width="0.2" >MBS 4</text>
<rect x="437.80" y="330.98" width="4.55" height="0.72" fill="#fff" stroke="#000" stroke-width="0.6"/>
<rect x="442.95" y="255.36" width="4.55" height="76.34" fill="#000" stroke="#000" stroke-width="0.6"/>
<rect x="448.10" y="282.34" width="4.55" height="49.36" fill="#dedede" stroke="#000" stroke-width="0.6"/>
<rect x="453.25" y="310.35" width="4.55" height="21.35" fill="#0a0a0a" stroke="#000" stroke-width="0.6"/>
<rect x="458.40" y="322.27" width="4.55" height="9.43" fill="#aaaaaa" stroke="#000" stroke-width="0.6"/>
<text x="450.38" y="343.20" font-size="7" text-anchor="middle" font-weight="normal" fill="#000" stroke="#000" stroke-width="0.2" >MBS 5</text>
<rect x="471.40" y="240.60" width="4.10" height="4.50" fill="#fff" stroke="#111" stroke-width="0.8"/>
<text x="477.60" y="244.70" font-size="6.1" text-anchor="start" font-weight="normal" fill="#000" stroke="#000" stroke-width="0.2" >Media</text>
<rect x="471.40" y="249.70" width="4.10" height="4.50" fill="#000" stroke="#111" stroke-width="0.8"/>
<text x="477.60" y="253.80" font-size="6.1" text-anchor="start" font-weight="normal" fill="#000" stroke="#000" stroke-width="0.2" >PMA/Ionomycin</text>
<rect x="471.40" y="258.80" width="4.10" height="4.50" fill="#e4e4e4" stroke="#111" stroke-width="0.8"/>
<text x="477.60" y="262.90" font-size="6.1" text-anchor="start" font-weight="normal" fill="#000" stroke="#000" stroke-width="0.2" >LPS</text>
<rect x="471.40" y="267.90" width="4.10" height="4.50" fill="#555" stroke="#111" stroke-width="0.8"/>
<text x="477.60" y="272.00" font-size="6.1" text-anchor="start" font-weight="normal" fill="#000" stroke="#000" stroke-width="0.2" >20µg/mL α-IgM</text>
<rect x="471.40" y="277.00" width="4.10" height="4.50" fill="#a0a0a0" stroke="#111" stroke-width="0.8"/>
<text x="477.60" y="281.10" font-size="6.1" text-anchor="start" font-weight="normal" fill="#000" stroke="#000" stroke-width="0.2" >5µg/mL α-IgM</text>
<text transform="translate(210.6,258.2) rotate(-90)" font-size="6.8" text-anchor="middle" stroke="#000" stroke-width="0.15"><tspan font-size="4.6" dy="-2">3</tspan><tspan dy="2">H-Thymidine Incorporation</tspan></text>
</svg>
</body></html>
